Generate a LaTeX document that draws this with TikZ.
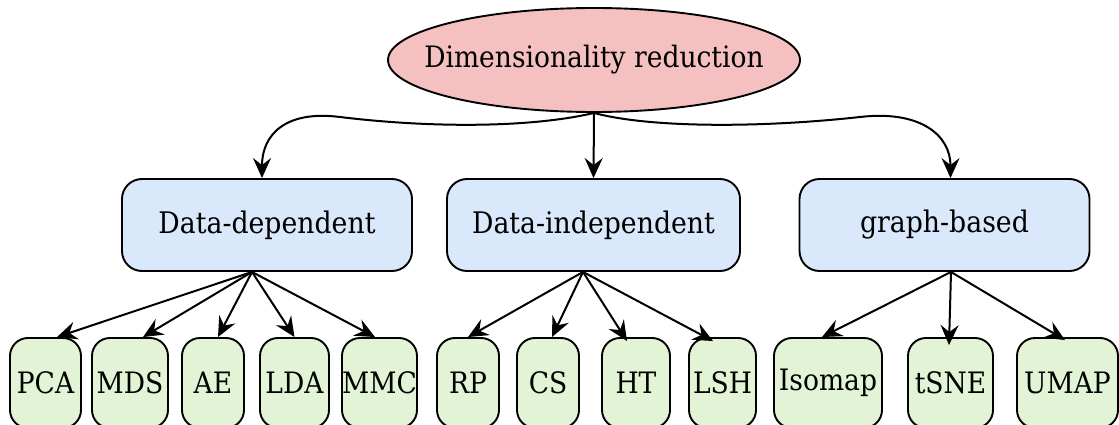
\documentclass[tikz,border=0pt]{standalone}
\usepackage{fontspec}
\setmainfont[FakeStretch=0.9]{DejaVu Serif}
\usetikzlibrary{shapes.geometric,arrows.meta}
\definecolor{pinkfill}{HTML}{F5C0C0}
\definecolor{bluefill}{HTML}{DAE8FC}
\definecolor{greenfill}{HTML}{E2F3D6}
\tikzset{
  topnode/.style={ellipse, draw=black, line width=1.9pt, fill=pinkfill, minimum width=412pt, minimum height=104pt, inner xsep=-40pt, inner ysep=0pt, font=\fontsize{29.5}{36}\selectfont},
  midnode/.style={rectangle, rounded corners=20pt, draw=black, line width=1.9pt, fill=bluefill, minimum width=290pt, minimum height=92pt, inner sep=0pt, font=\fontsize{29.7}{36}\selectfont},
  leafnode/.style={rectangle, rounded corners=18pt, draw=black, line width=1.9pt, fill=greenfill, minimum height=90pt, inner sep=0pt, font=\fontsize{29.5}{36}\selectfont},
  arr/.style={draw=black, line width=2pt, >={Stealth[length=20pt, width=18pt, inset=7pt]}, ->},
}
\begin{document}
\begin{tikzpicture}[x=1pt, y=-1pt]
\useasboundingbox (0,0) rectangle (1119,425);
\node[topnode] (top) at (594,60) {Dimensionality reduction};
\node[midnode] (dd) at (267,225) {Data-dependent};
\node[midnode, minimum width=293pt] (di) at (593.5,225) {Data-independent};
\node[midnode, minimum width=290pt] (gb) at (944.5,225) {graph-based};

\node[leafnode, minimum width=71pt] (pca) at (45.5,383) {PCA};
\node[leafnode, minimum width=76pt] (mds) at (130,383) {MDS};
\node[leafnode, minimum width=62pt] (ae) at (213,383) {AE};
\node[leafnode, minimum width=69pt] (lda) at (294.5,383) {LDA};
\node[leafnode, minimum width=75pt] (mmc) at (379.5,383) {MMC};
\node[leafnode, minimum width=62pt] (rp) at (468,383) {RP};
\node[leafnode, minimum width=62pt] (cs) at (548,383) {CS};
\node[leafnode, minimum width=68pt] (ht) at (636,383) {HT};
\node[leafnode, minimum width=67pt] (lsh) at (722.5,383) {LSH};
\node[leafnode, minimum width=108pt] (iso) at (828,383) {Isomap};
\node[leafnode, minimum width=85pt] (tsne) at (950.5,383) {tSNE};
\node[leafnode, minimum width=101pt] (umap) at (1067.5,383) {UMAP};

% top level connectors
\draw[arr] (top.south) .. controls (530,128) and (430,128) .. (340,117) .. controls (285,110) and ([xshift=-5pt]dd.north |- 0,135) .. ([xshift=-5pt]dd.north);
\draw[arr] (top.south) -- (di.north);
\draw[arr] (top.south) .. controls (650,128) and (760,128) .. (860,117) .. controls (920,110) and ([xshift=6pt]gb.north |- 0,135) .. ([xshift=6pt]gb.north);

% data-dependent
\draw[arr] ([xshift=-15pt]dd.south) -- ([xshift=11.5pt]pca.north);
\draw[arr] ([xshift=-15pt]dd.south) -- ([xshift=13pt]mds.north);
\draw[arr] ([xshift=-15pt]dd.south) -- ([xshift=5pt]ae.north);
\draw[arr] ([xshift=-15pt]dd.south) -- (lda.north);
\draw[arr] ([xshift=-15pt]dd.south) -- ([xshift=-4.5pt]mmc.north);

% data-independent
\draw[arr] ([xshift=-10.5pt]di.south) -- (rp.north);
\draw[arr] ([xshift=-10.5pt]di.south) -- ([xshift=4pt]cs.north);
\draw[arr] ([xshift=-10.5pt]di.south) -- ([xshift=-9pt,yshift=-4pt]ht.north);
\draw[arr] ([xshift=-10.5pt]di.south) -- ([xshift=-9.5pt,yshift=-4pt]lsh.north);

% graph-based
\draw[arr] ([xshift=6.5pt]gb.south) -- ([xshift=-6pt]iso.north);
\draw[arr] ([xshift=6.5pt]gb.south) -- ([xshift=-1.5pt,yshift=-8pt]tsne.north);
\draw[arr] ([xshift=6.5pt]gb.south) -- ([xshift=-2.5pt,yshift=-3pt]umap.north);
\end{tikzpicture}
\end{document}
